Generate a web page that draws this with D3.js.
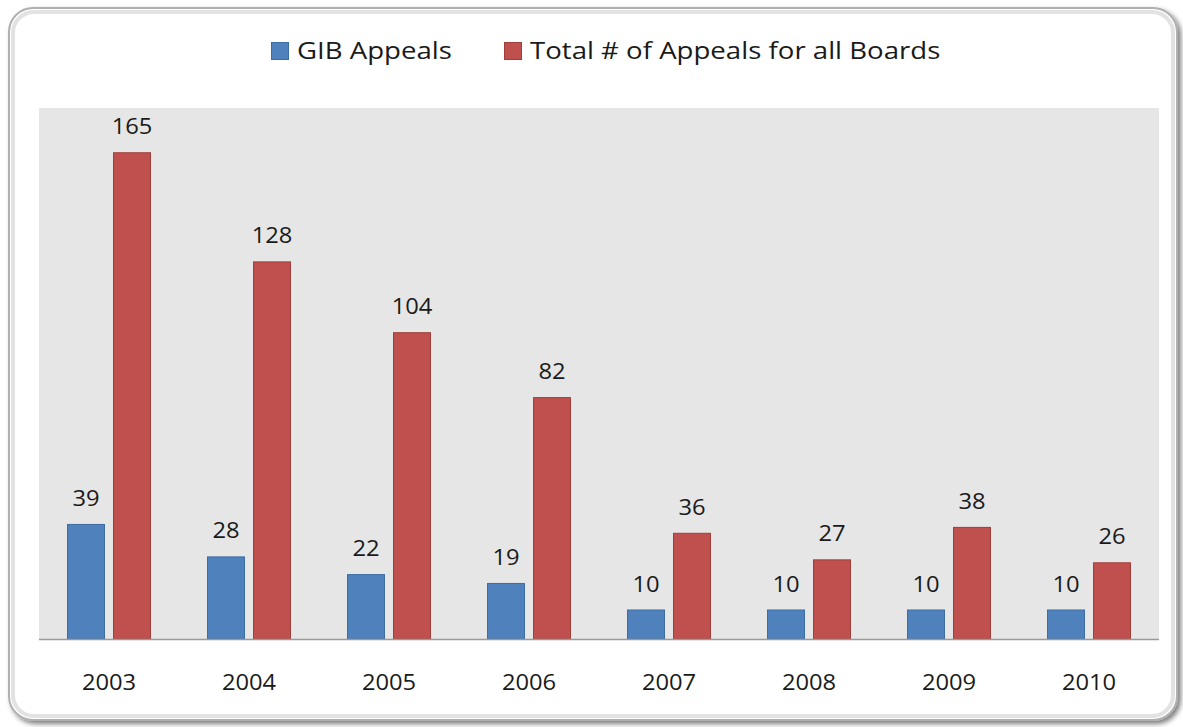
<!DOCTYPE html>
<html lang="en">
<head>
    <meta charset="UTF-8">
    <title>GIB Appeals</title>
    <script src="https://d3js.org/d3.v7.min.js"></script>
    <style>
        body { margin: 0; background: #fff; }
        text { font-family: "Open Sans", "Noto Sans", sans-serif; fill: #1a1a1a; }
    </style>
</head>
<body>
    <div id="chart-container"></div>
    <script>
        // data
        const years = ["2003", "2004", "2005", "2006", "2007", "2008", "2009", "2010"];
        const gibAppeals = [39, 28, 22, 19, 10, 10, 10, 10];
        const totalAppeals = [165, 128, 104, 82, 36, 27, 38, 26];
        const seriesNames = ["GIB Appeals", "Total # of Appeals for all Boards"];
        const seriesColors = ["#4f81bd", "#c0504d"];
        const seriesStrokes = ["#3d6ca3", "#a03e3b"];

        const containerWidth = 1183;
        const containerHeight = 727;
        const plot = { left: 39, right: 1159, top: 108, bottom: 639 };
        // the original text looks slightly stretched sideways
        const stretch = 1.13;

        const svg = d3.select("#chart-container")
            .append("svg")
            .attr("width", containerWidth)
            .attr("height", containerHeight);

        // drop shadow for the outer frame
        const defs = svg.append("defs");
        const filter = defs.append("filter")
            .attr("id", "shadow")
            .attr("x", "-5%").attr("y", "-5%")
            .attr("width", "110%").attr("height", "110%");
        filter.append("feDropShadow")
            .attr("dx", 3).attr("dy", 3)
            .attr("stdDeviation", 2.5)
            .attr("flood-color", "#000")
            .attr("flood-opacity", 0.5);

        // outer frame
        svg.append("rect")
            .attr("x", 9).attr("y", 8)
            .attr("width", 1168).attr("height", 712)
            .attr("rx", 24).attr("ry", 24)
            .attr("fill", "#fff")
            .attr("stroke", "#b0b0b0")
            .attr("stroke-width", 2)
            .attr("filter", "url(#shadow)");
        svg.append("rect")
            .attr("x", 13).attr("y", 12)
            .attr("width", 1160).attr("height", 704)
            .attr("rx", 21).attr("ry", 21)
            .attr("fill", "none")
            .attr("stroke", "#e2e2e2")
            .attr("stroke-width", 4);

        // plot area
        svg.append("rect")
            .attr("x", plot.left).attr("y", plot.top)
            .attr("width", plot.right - plot.left)
            .attr("height", plot.bottom - plot.top)
            .attr("fill", "#e6e6e6");

        // scales
        const x0 = d3.scaleBand()
            .domain(years)
            .range([plot.left, plot.right])
            .paddingInner(0.4)
            .paddingOuter(0.2);

        const x1 = d3.scaleBand()
            .domain([0, 1])
            .range([0, x0.bandwidth()])
            .paddingInner(0.174);

        const y = d3.scaleLinear()
            .domain([0, 180])
            .range([plot.bottom, plot.top]);

        const rows = years.map((yr, i) => ({ year: yr, values: [gibAppeals[i], totalAppeals[i]] }));

        const groups = svg.selectAll(".group")
            .data(rows)
            .enter()
            .append("g")
            .attr("class", "group")
            .attr("transform", d => `translate(${x0(d.year)},0)`);

        // bars
        groups.selectAll("rect")
            .data(d => d.values.map((v, s) => ({ v, s })))
            .enter()
            .append("rect")
            .attr("x", d => x1(d.s) + 0.5)
            .attr("y", d => y(d.v) + 0.5)
            .attr("width", x1.bandwidth() - 1)
            .attr("height", d => y(0) - y(d.v) - 0.5)
            .attr("fill", d => seriesColors[d.s])
            .attr("stroke", d => seriesStrokes[d.s])
            .attr("stroke-width", 1);

        // value labels
        groups.selectAll(".val")
            .data(d => d.values.map((v, s) => ({ v, s })))
            .enter()
            .append("text")
            .attr("class", "val")
            .attr("transform", d => `translate(${x1(d.s) + x1.bandwidth() / 2},${y(d.v) - 18}) scale(${stretch},1)`)
            .attr("text-anchor", "middle")
            .style("font-size", "21px")
            .text(d => d.v);

        // x axis line
        svg.append("line")
            .attr("x1", plot.left).attr("x2", plot.right)
            .attr("y1", plot.bottom + 0.5).attr("y2", plot.bottom + 0.5)
            .attr("stroke", "#9a9a9a")
            .attr("stroke-width", 1.5);

        // year labels
        svg.selectAll(".year")
            .data(years)
            .enter()
            .append("text")
            .attr("class", "year")
            .attr("transform", d => `translate(${x0(d) + x0.bandwidth() / 2},690) scale(${stretch},1)`)
            .attr("text-anchor", "middle")
            .style("font-size", "21px")
            .text(d => d);

        // legend
        const legendX = [271, 504];
        const legend = svg.selectAll(".legend")
            .data(seriesNames)
            .enter()
            .append("g")
            .attr("class", "legend")
            .attr("transform", (d, i) => `translate(${legendX[i]},42)`);

        legend.append("rect")
            .attr("x", 0.5).attr("y", 0.5)
            .attr("width", 17).attr("height", 17)
            .attr("fill", (d, i) => seriesColors[i])
            .attr("stroke", (d, i) => seriesStrokes[i]);

        legend.append("text")
            .attr("transform", "translate(26,17) scale(1.15,1)")
            .style("font-size", "24px")
            .text(d => d);
    </script>
</body>
</html>
